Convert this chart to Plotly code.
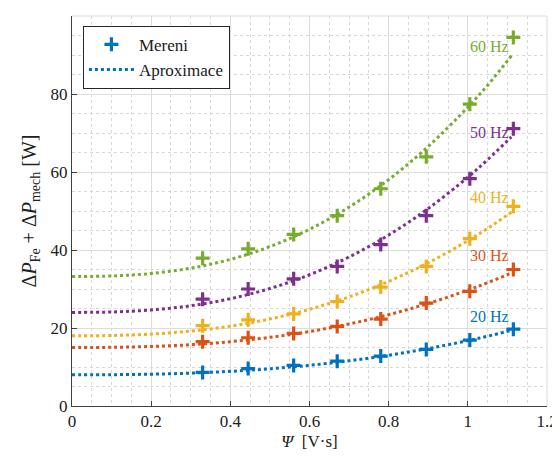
import plotly.graph_objects as go

# Measured flux linkage values [V·s]
psi_meas = [0.33, 0.445, 0.56, 0.67, 0.78, 0.895, 1.005, 1.115]
# Measured losses [W]
p20 = [8.6, 9.6, 10.4, 11.5, 12.8, 14.5, 16.9, 19.7]
p30 = [16.5, 17.5, 18.6, 20.4, 22.3, 26.4, 29.4, 35.0]
p40 = [20.6, 22.1, 23.6, 26.8, 30.5, 35.8, 42.9, 51.2]
p50 = [27.4, 30.0, 32.6, 35.8, 41.4, 48.8, 58.3, 71.1]
p60 = [37.9, 40.3, 44.0, 48.8, 55.7, 63.9, 77.4, 94.5]

# Approximation curves
psi_fit = [0.0, 0.1, 0.2, 0.3, 0.4, 0.5, 0.6, 0.7, 0.8, 0.9, 1.0, 1.05, 1.11]
f20 = [8.0, 8.03, 8.16, 8.43, 8.89, 9.55, 10.44, 11.59, 13.01, 14.73, 16.76, 17.90, 19.4]
f30 = [15.0, 15.05, 15.26, 15.72, 16.49, 17.60, 19.10, 21.03, 23.41, 26.30, 29.70, 31.61, 34.1]
f40 = [18.0, 18.08, 18.44, 19.20, 20.47, 22.31, 24.80, 27.99, 31.95, 36.73, 42.38, 45.54, 49.7]
f50 = [24.0, 24.11, 24.62, 25.71, 27.51, 30.13, 33.66, 38.21, 43.84, 50.64, 58.66, 63.16, 69.0]
f60 = [33.2, 33.34, 33.98, 35.34, 37.59, 40.88, 45.31, 51.0, 58.05, 66.57, 76.62, 82.25, 89.8]

freq_labels = ["20 Hz", "30 Hz", "40 Hz", "50 Hz", "60 Hz"]
label_y = [23.0, 38.6, 53.5, 70.2, 92.1]
colors = ["#0072BD", "#D95319", "#EDB120", "#7E2F8E", "#77AC30"]

meas = [p20, p30, p40, p50, p60]
fits = [f20, f30, f40, f50, f60]

FONT = "Liberation Serif"
TXT = "#202020"
fig = go.Figure()

for i, (m, f, c) in enumerate(zip(meas, fits, colors)):
    fig.add_trace(go.Scatter(
        x=psi_meas, y=m, mode="markers", name="Mereni",
        marker=dict(symbol="cross-thin", size=10, color=c,
                    line=dict(color=c, width=3.2)),
        showlegend=(i == 0), legendrank=1))
    fig.add_trace(go.Scatter(
        x=psi_fit, y=f, mode="lines", name="Aproximace",
        line=dict(color=c, width=3, dash="dot", shape="spline"),
        showlegend=(i == 0), legendrank=2))

for lab, ly, c in zip(freq_labels, label_y, colors):
    fig.add_annotation(x=1.108, y=ly, text=lab, showarrow=False,
                       xanchor="right", yanchor="middle",
                       font=dict(family=FONT, size=16, color=c))

axis_common = dict(
    showgrid=True, gridcolor="#dcdcdc", gridwidth=1,
    showline=True, linecolor="#404040", linewidth=1,
    ticks="inside", ticklen=5, tickcolor="#404040",
    tickfont=dict(family=FONT, size=17, color=TXT),
    zeroline=False, mirror=False, automargin=False,
)

fig.update_xaxes(
    range=[0, 1.2], tick0=0, dtick=0.2,
    minor=dict(dtick=0.05, showgrid=True, gridcolor="#d8d8d8",
               griddash="dot", gridwidth=1),
    title=dict(text="<i>Ψ</i>  [V·s]",
               font=dict(family=FONT, size=17, color=TXT), standoff=4),
    **axis_common)
fig.update_yaxes(
    range=[0, 100], tick0=0, dtick=20,
    minor=dict(dtick=5, showgrid=True, gridcolor="#d8d8d8",
               griddash="dot", gridwidth=1),
    title=dict(text="Δ<i>P</i><sub>Fe</sub> + Δ<i>P</i><sub>mech</sub> [W]",
               font=dict(family=FONT, size=20, color=TXT), standoff=8),
    **axis_common)

# light frame on top/right like grid border
fig.add_shape(type="line", xref="paper", yref="paper", x0=0, x1=1, y0=1, y1=1,
              line=dict(color="#dcdcdc", width=1))
fig.add_shape(type="line", xref="paper", yref="paper", x0=1, x1=1, y0=0, y1=1,
              line=dict(color="#dcdcdc", width=1))

fig.update_layout(
    width=552, height=451,
    margin=dict(l=64, r=13, t=8, b=53),
    plot_bgcolor="white", paper_bgcolor="white",
    font=dict(family=FONT, size=16, color=TXT),
    legend=dict(x=0.023, y=0.975, xanchor="left", yanchor="top",
                bgcolor="white", bordercolor="#262626", borderwidth=1,
                font=dict(family=FONT, size=17, color=TXT),
                itemwidth=45, tracegroupgap=0),
)

fig.write_html("out.html")
